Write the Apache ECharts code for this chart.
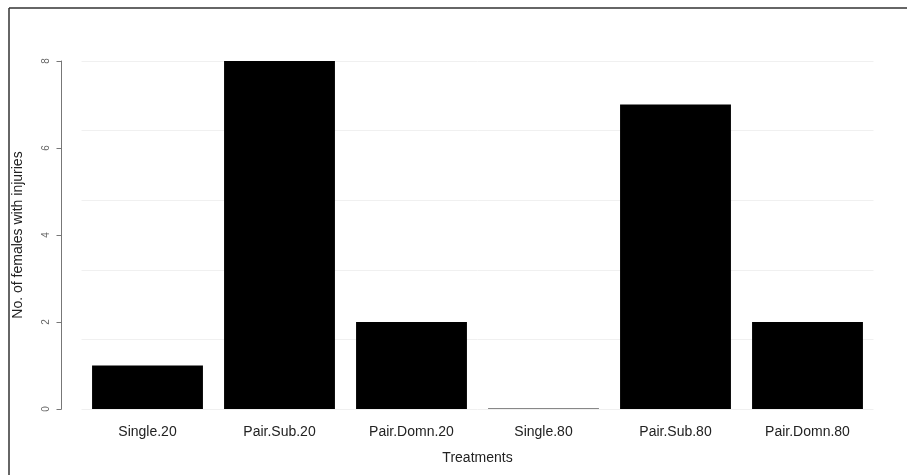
<!DOCTYPE html>
<html>
<head>
<meta charset="utf-8">
<script src="https://cdn.jsdelivr.net/npm/echarts@6/dist/echarts.min.js"></script>
<style>html,body{margin:0;padding:0;background:#fff;}#c{width:907px;height:475px;}</style>
</head>
<body>
<div id="c"></div>
<script>
const categories = ['Single.20', 'Pair.Sub.20', 'Pair.Domn.20', 'Single.80', 'Pair.Sub.80', 'Pair.Domn.80'];
const injuries = [1, 8, 2, 0, 7, 2];
const yTicks = [0, 2, 4, 6, 8];
const xTitle = 'Treatments';
const yTitle = 'No. of females with injuries';

const chart = echarts.init(document.getElementById('c'), null, {renderer: 'canvas'});
const font = '"Liberation Sans", Arial, sans-serif';
chart.setOption({
  animation: false,
  backgroundColor: '#fff',
  grid: {left: 81.5, right: 33.5, top: 61, bottom: 66, containLabel: false},
  xAxis: {
    type: 'category',
    data: categories,
    axisLine: {show: false},
    axisTick: {show: false},
    axisLabel: {margin: 16, fontFamily: font, fontSize: 14, color: '#222'},
    name: xTitle,
    nameLocation: 'middle',
    nameGap: 42,
    nameTextStyle: {fontFamily: font, fontSize: 14, color: '#222'}
  },
  yAxis: [{
    type: 'value',
    min: yTicks[0],
    max: yTicks[yTicks.length - 1],
    interval: 2,
    offset: 20,
    axisLine: {show: true, lineStyle: {color: '#777', width: 1}},
    axisTick: {show: true, length: 5, lineStyle: {color: '#777'}},
    splitLine: {show: false},
    axisLabel: {rotate: 90, margin: 10, fontFamily: font, fontSize: 10, color: '#666'},
    name: yTitle,
    nameLocation: 'middle',
    nameGap: 36,
    nameTextStyle: {fontFamily: font, fontSize: 14, color: '#222'}
  }, {
    type: 'value',
    min: 0, max: 5, interval: 1,
    show: true,
    position: 'right',
    axisLine: {show: false},
    axisTick: {show: false},
    axisLabel: {show: false},
    splitLine: {show: true, lineStyle: {color: '#f0f0f0', width: 1}}
  }],
  series: [{
    type: 'bar',
    data: injuries.map(v => v === 0 ? {value: v, itemStyle: {color: '#888'}} : v),
    barCategoryGap: '16%',
    barMinHeight: 1,
    itemStyle: {color: '#000'},
    yAxisIndex: 0
  }],
  graphic: [
    {type: 'line', shape: {x1: 9, y1: 8, x2: 907, y2: 8}, style: {stroke: '#333', lineWidth: 1.5}},
    {type: 'line', shape: {x1: 9, y1: 8, x2: 9, y2: 475}, style: {stroke: '#333', lineWidth: 1.5}}
  ]
});
</script>
</body>
</html>
